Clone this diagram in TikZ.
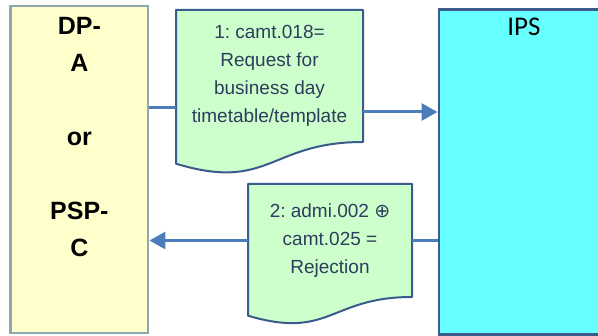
\documentclass[tikz,border=0pt]{standalone}
\usepackage{fontspec}
\setmainfont{Liberation Sans}
\newfontfamily\ipsfont{Carlito}
\newfontfamily\opfont{DejaVu Sans}
\usetikzlibrary{arrows.meta,positioning}
\definecolor{dpfill}{HTML}{FFFFCC}
\definecolor{dpline}{HTML}{8FA8B0}
\definecolor{ipsfill}{HTML}{66FFFF}
\definecolor{ipsline}{HTML}{3B5B8C}
\definecolor{msgfill}{HTML}{CCFFCC}
\definecolor{msgtext}{HTML}{2E3D5C}
\definecolor{flowblue}{HTML}{4A7DBA}
\frenchspacing

\begin{document}
\begin{tikzpicture}[x=1pt, y=-1pt,
  party/.style={rectangle, draw, line width=2.5pt, inner sep=0pt},
  msg/.style={rectangle, inner sep=0pt, align=center, font=\fontsize{19}{28}\selectfont, text=msgtext},
  docline/.style={draw=ipsline, line width=2pt, fill=msgfill, line join=round},
  link/.style={line width=3pt, draw=flowblue},
  flow/.style={link, -{Triangle[length=16pt,width=17pt]}}
]

\useasboundingbox (0,0) rectangle (598,336);

% Parties
\node[party, draw=dpline, fill=dpfill, minimum width=137.6pt, minimum height=327pt,
  label={[anchor=north, yshift=-9pt, align=center, font=\fontsize{25}{37}\selectfont\bfseries]north:DP-\\A\\[37pt]or\\[37pt]PSP-\\C}]
  (dpa) at (79.4,169.3) {};
\node[party, draw=ipsline, fill=ipsfill, minimum width=170.3pt, minimum height=324.8pt,
  label={[anchor=north, yshift=-6pt, font=\ipsfont\fontsize{27}{30}\selectfont]north:IPS}]
  (ips) at (523.9,172.1) {};

% Messages
\path[docline] (176,10) -- (363,10) -- (363,142) .. controls (269.5,142) and (269.5,192) .. (176,163.7) -- cycle;
\node[msg, minimum width=187pt, minimum height=132pt] (doc1) at (269.5,76)
  {1: camt.018=\\Request for\\business day\\timetable/template};

\path[docline] (248,184) -- (412,184) -- (412,297) .. controls (330,297) and (330,340) .. (248,315.7) -- cycle;
\node[msg, minimum width=164pt, minimum height=113pt] (doc2) at (330,240.5)
  {2: admi.002 {\opfont ⊕}\\camt.025 =\\Rejection};

% Flows
\coordinate (in1) at ([yshift=-32pt]doc1.west);
\coordinate (out1) at ([yshift=-36pt]doc1.east);
\draw[link] (in1 -| dpa.east) -- (in1);
\draw[flow] (out1) -- (out1 -| ips.west);
\draw[link] (ips.west |- doc2.east) -- (doc2.east);
\draw[flow] (doc2.west) -- (doc2.west -| dpa.east);

\end{tikzpicture}
\end{document}
